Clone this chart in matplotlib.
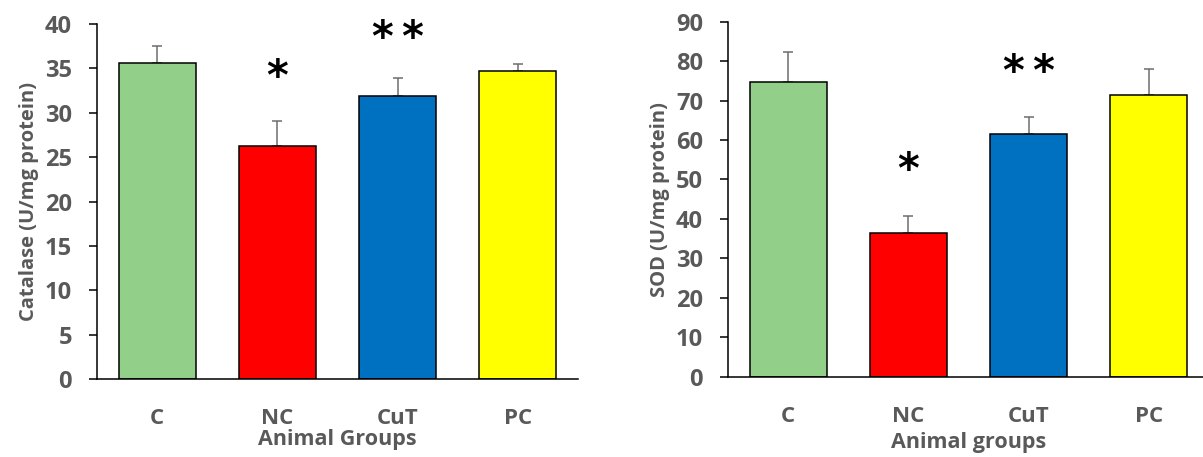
import matplotlib
matplotlib.use('Agg')
import matplotlib.pyplot as plt
import numpy as np

groups = ['C', 'NC', 'CuT', 'PC']
colors = ['#92D08A', '#FF0000', '#0070C0', '#FFFF00']

catalase = [35.6, 26.3, 31.9, 34.7]
catalase_err = [1.9, 2.8, 2.0, 0.8]
catalase_stars = ['', '*', '*\u2009*', '']
catalase_star_y = [0, 33.9, 38.3, 0]

sod = [74.7, 36.4, 61.5, 71.5]
sod_err = [7.5, 4.3, 4.4, 6.5]
sod_stars = ['', '*', '*\u2009*', '']
sod_star_y = [0, 52.2, 76.9, 0]

plt.rcParams['font.family'] = ['Open Sans', 'DejaVu Sans']
plt.rcParams['font.weight'] = 'bold'
GRAY = '#595959'


def draw_panel(ax, values, errs, stars, star_y, ymax, ystep, ylabel, xlabel, xlabelpad):
    x = np.arange(len(groups))
    ax.bar(x, values, width=0.64, color=colors, edgecolor='black', linewidth=1.1, zorder=2)
    ax.errorbar(x, values, yerr=[np.zeros(len(errs)), errs], fmt='none', ecolor='#6d6d6d',
                elinewidth=1.1, capsize=3.6, capthick=1.1, zorder=1)
    for xi, s, sy in zip(x, stars, star_y):
        if s:
            ax.text(xi, sy, s, ha='center', va='center', fontsize=30, color='black',
                    family='DejaVu Sans', fontweight='bold')
    ax.set_xlim(-0.5, 3.5)
    ax.set_ylim(0, ymax)
    ax.set_yticks(np.arange(0, ymax + 1, ystep))
    ax.set_xticks(x)
    ax.set_xticklabels(groups)
    ax.spines['top'].set_visible(False)
    ax.spines['right'].set_visible(False)
    ax.spines['left'].set_linewidth(1.1)
    ax.spines['bottom'].set_linewidth(1.1)
    ax.tick_params(axis='y', length=6, width=1.1, pad=12, labelsize=17, labelcolor=GRAY)
    ax.tick_params(axis='x', length=0, pad=21, labelsize=16, labelcolor=GRAY)
    ax.set_ylabel(ylabel, fontsize=14.5, color=GRAY, fontweight='bold', labelpad=4)
    ax.set_xlabel(xlabel, fontsize=15.5, color=GRAY, fontweight='bold', labelpad=xlabelpad)


fig = plt.figure(figsize=(12.03, 4.57), dpi=100)
ax1 = fig.add_axes([0.0806, 0.170, 0.3999, 0.7775])
ax2 = fig.add_axes([0.6052, 0.1757, 0.3998, 0.7768])

draw_panel(ax1, catalase, catalase_err, catalase_stars, catalase_star_y, 40, 5,
           'Catalase (U/mg protein)', 'Animal Groups', 0)
draw_panel(ax2, sod, sod_err, sod_stars, sod_star_y, 90, 10,
           'SOD (U/mg protein)', 'Animal groups', 3.5)

fig.savefig('out.png', dpi=100)
